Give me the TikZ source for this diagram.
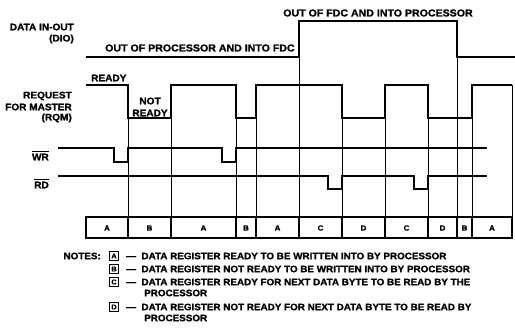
\documentclass[tikz,border=0pt]{standalone}
\usepackage{fontspec}
\setmainfont{Liberation Sans}[BoldFeatures={FakeBold=1.3,FakeStretch=1.06}]
\begin{document}
\begin{tikzpicture}[x=1pt,y=-1pt,
  lbl/.style={font=\bfseries\fontsize{9.5}{10}\selectfont, inner sep=0pt},
  phase/.style={font=\bfseries\fontsize{10}{11}\selectfont, inner sep=0pt},
  note/.style={font=\bfseries\fontsize{9.3}{10}\selectfont, inner sep=0pt, anchor=west},
  small/.style={font=\bfseries\fontsize{7.5}{8}\selectfont, inner sep=0pt},
  sig/.style={line width=1.5pt, line join=miter},
  guide/.style={line width=0.6pt},
  frame/.style={line width=1.3pt},
  notebox/.style={draw, line width=0.8pt, minimum width=9.5pt, minimum height=9.5pt, inner sep=0pt, font=\bfseries\fontsize{7}{7}\selectfont}]
\useasboundingbox (0,0) rectangle (515,328);

% signal labels
\node[lbl, anchor=east] (dio1) at (74,27) {DATA IN-OUT};
\node[lbl, anchor=east] (dio2) at (74,39) {(DIO)};
\node[lbl, anchor=east] (rqm1) at (72,96) {REQUEST};
\node[lbl, anchor=east] (rqm2) at (72,107) {FOR MASTER};
\node[lbl, anchor=east] (rqm3) at (72,118) {(RQM)};
\node[lbl, anchor=east] (wr) at (49,157) {WR};
\draw[line width=0.7pt] ([yshift=2pt]wr.north west) -- ([yshift=2pt]wr.north east);
\node[lbl, anchor=east] (rd) at (49,185) {RD};
\draw[line width=0.7pt] ([yshift=2pt]rd.north west) -- ([yshift=2pt]rd.north east);

% phase texts
\node[phase, anchor=west] (outproc) at (105,48) {OUT OF PROCESSOR AND INTO FDC};
\node[phase] (outfdc) at (378,13) {OUT OF FDC AND INTO PROCESSOR};
\node[lbl, anchor=west] (ready) at (91,78) {READY};
\node[lbl] (not) at (150,101) {NOT};
\node[lbl] (notready) at (150,113) {READY};

% guide lines
\foreach \x/\t in {128/118,171/118,236/118,256/118,299/57,342/118,385/118,428/118,457/57,472/118,512/85}
  \draw[guide] (\x,\t) -- (\x,217);

% DIO
\draw[sig] (86,57) -- (299,57) -- (299,21) -- (457,21) -- (457,57) -- (515,57);
% RQM
\draw[sig] (86,85) -- (128,85) -- (128,118) -- (171,118) -- (171,85) -- (236,85) -- (236,118)
  -- (256,118) -- (256,85) -- (342,85) -- (342,118) -- (385,118) -- (385,85) -- (428,85)
  -- (428,118) -- (472,118) -- (472,85) -- (512,85);
% WR
\draw[sig] (58,148) -- (114,148) -- (114,162) -- (128,162) -- (128,148) -- (222,148) -- (222,162)
  -- (236,162) -- (236,148) -- (487,148);
% RD
\draw[sig] (58,176) -- (328,176) -- (328,189) -- (342,189) -- (342,176) -- (414,176) -- (414,189)
  -- (428,189) -- (428,176) -- (487,176);

% state bar
\draw[frame] (86,217) rectangle (512,238);
\foreach \x in {128,171,236,256,299,342,385,428,457,472}
  \draw[frame] (\x,217) -- (\x,238);
\foreach \a/\b/\l [count=\i] in {86/128/A,128/171/B,171/236/A,236/256/B,256/299/A,299/342/C,342/385/D,385/428/C,428/457/D,457/472/B,472/512/A}
  \node[small] (s\i) at ({(\a+\b)/2},228) {\l};

% notes
\node[note, anchor=east] (notes) at (101,256) {NOTES:};
\node[notebox] (na) at (114,256) {A};
\node[notebox] (nb) at (114,269) {B};
\node[notebox] (nc) at (114,282) {C};
\node[notebox] (nd) at (114,307) {D};
\node[note] (ta) at (126,256) {--- \ DATA REGISTER READY TO BE WRITTEN INTO BY PROCESSOR};
\node[note] (tb) at (126,269) {--- \ DATA REGISTER NOT READY TO BE WRITTEN INTO BY PROCESSOR};
\node[note] (tc) at (126,282) {--- \ DATA REGISTER READY FOR NEXT DATA BYTE TO BE READ BY THE};
\node[note] (tc2) at (144,293) {PROCESSOR};
\node[note] (td) at (126,307) {--- \ DATA REGISTER NOT READY FOR NEXT DATA BYTE TO BE READ BY};
\node[note] (td2) at (144,318) {PROCESSOR};
\end{tikzpicture}
\end{document}
